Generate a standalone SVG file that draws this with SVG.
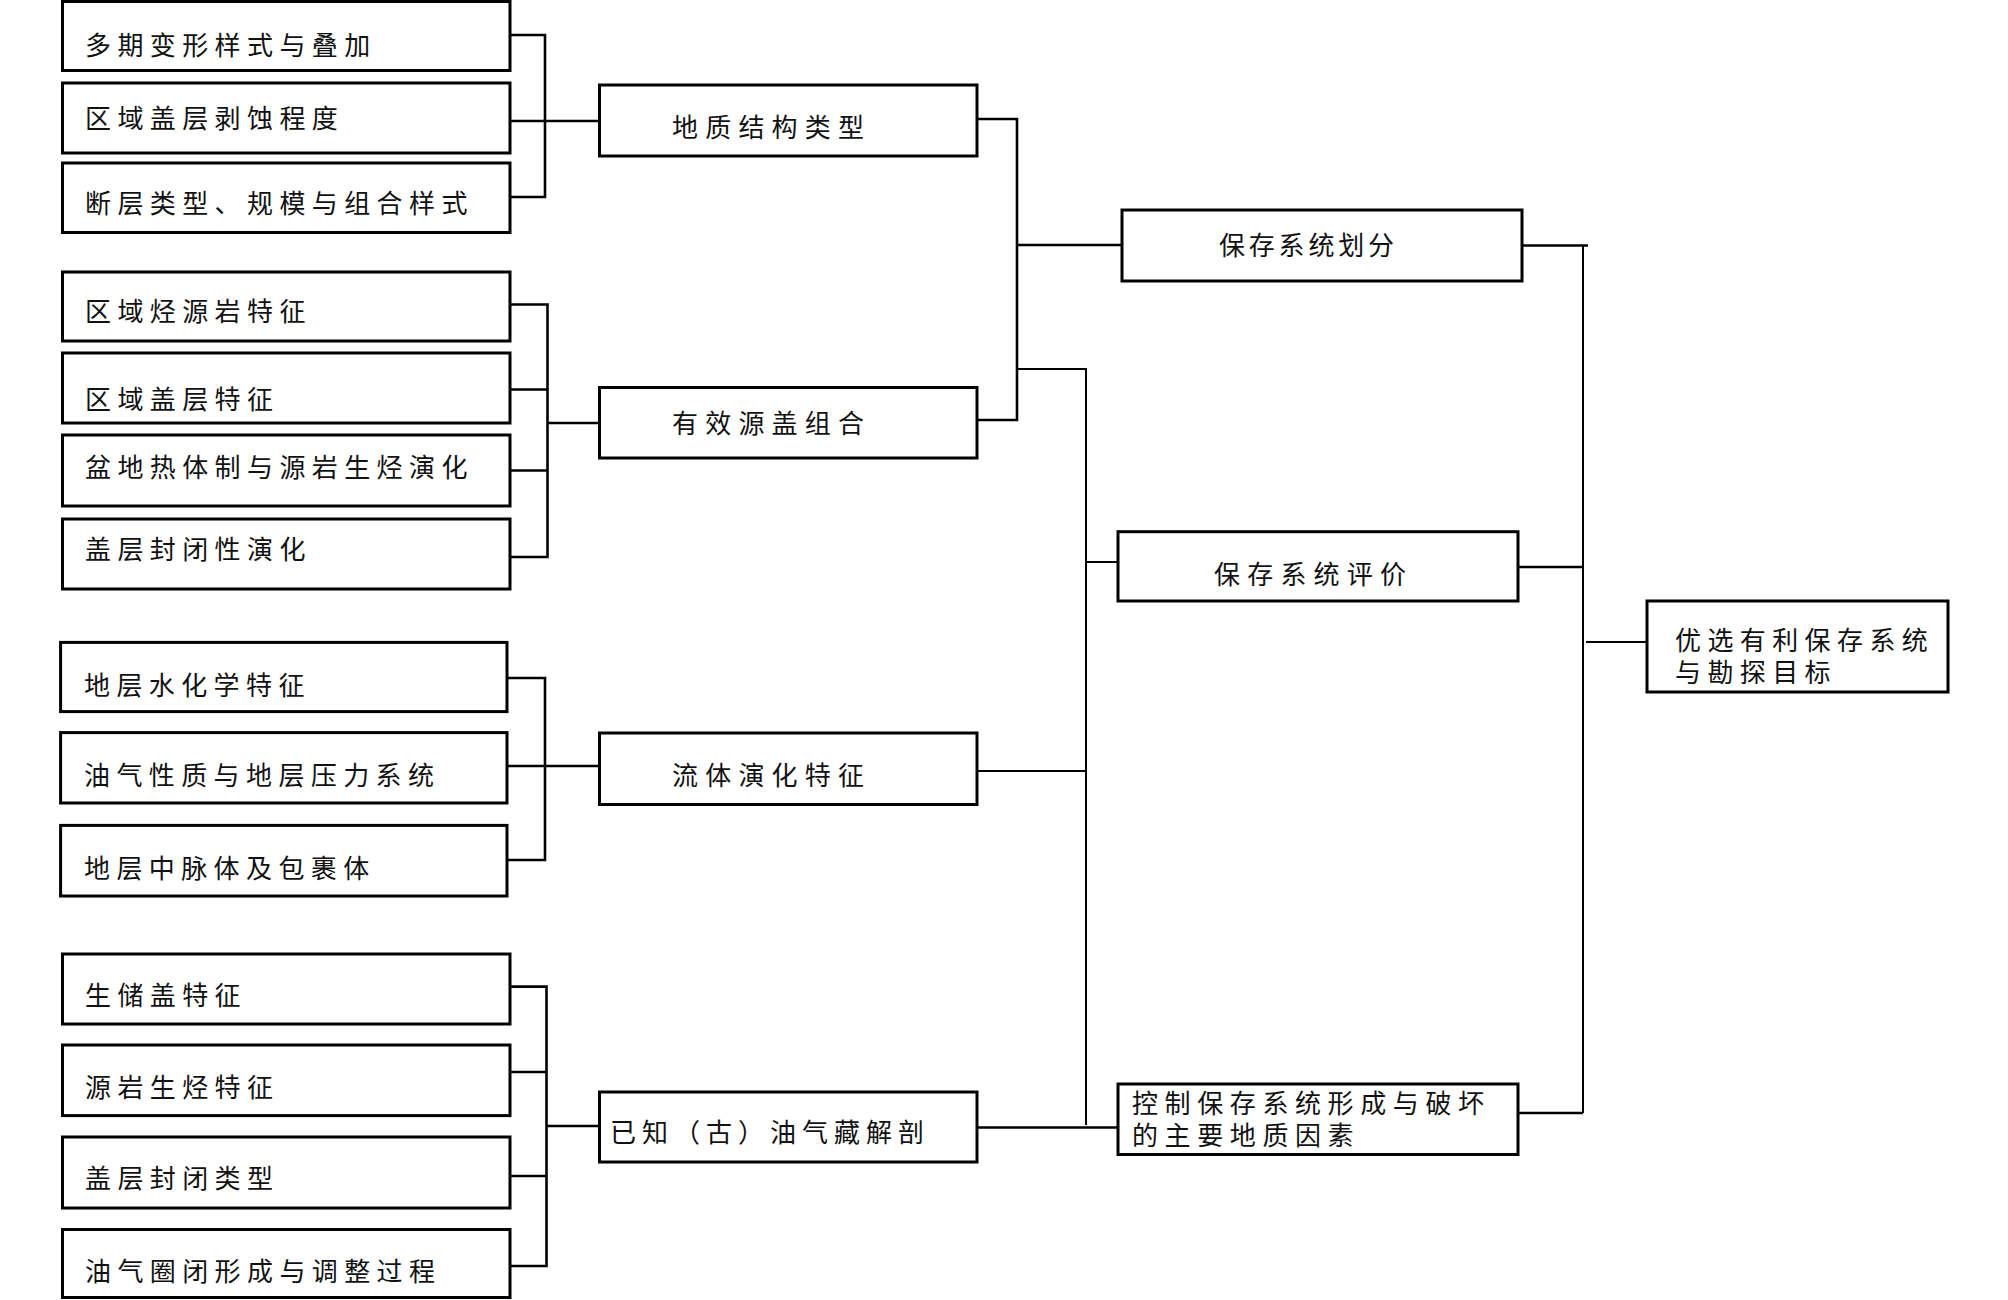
<svg xmlns="http://www.w3.org/2000/svg" width="2008" height="1300" viewBox="0 0 2008 1300">
<style>
.box{fill:#fff;stroke:#000;stroke-width:3}
.t{font-family:"Noto Sans CJK SC","Liberation Sans",sans-serif;font-size:26px;fill:#111;letter-spacing:6.4px}
.c{fill:none;stroke:#000;stroke-width:2.6}
.c2{fill:none;stroke:#000;stroke-width:2}
</style>
<rect width="2008" height="1300" fill="#fff"/>
<g id="connectors">
<path class="c" d="M510,35 H545 V197 H510 M510,121 H599"/>
<path class="c" d="M510,304.5 H547.5 V557 H510 M510,389.5 H547.5 M510,470.5 H547.5 M547.5,423 H599"/>
<path class="c" d="M507,678 H545 V860 H507 M507,766 H599"/>
<path class="c" d="M510,986.6 H546.5 V1266 H510 M510,1072 H546.5 M510,1176 H546.5 M546.5,1126 H599"/>
<path class="c" d="M977,119 H1017 V420 H977 M1017,245 H1122"/>
<path class="c2" d="M1017,369 H1086 V1125 M977,771 H1086 M1086,562 H1118"/>
<path class="c" d="M977,1127.5 H1118"/>
<path class="c" d="M1522,245.5 H1588 M1518,567 H1583 M1518,1113 H1583"/>
<path class="c2" d="M1583,245.5 V1113 M1586,642 H1647"/>
</g>
<g id="n1"><rect class="box" x="62.5" y="1.5" width="447.5" height="69"/><text class="t" x="85" y="55">多期变形样式与叠加</text></g>
<g id="n2"><rect class="box" x="62.5" y="83" width="447.5" height="70"/><text class="t" x="85" y="128">区域盖层剥蚀程度</text></g>
<g id="n3"><rect class="box" x="62.5" y="163" width="447.5" height="69.5"/><text class="t" x="85" y="212.5">断层类型、规模与组合样式</text></g>
<g id="n4"><rect class="box" x="62.5" y="272" width="447.5" height="69"/><text class="t" x="85" y="321">区域烃源岩特征</text></g>
<g id="n5"><rect class="box" x="62.5" y="353" width="447.5" height="70"/><text class="t" x="85" y="409">区域盖层特征</text></g>
<g id="n6"><rect class="box" x="62.5" y="435" width="447.5" height="71"/><text class="t" x="85" y="476.5">盆地热体制与源岩生烃演化</text></g>
<g id="n7"><rect class="box" x="62.5" y="519" width="447.5" height="70"/><text class="t" x="85" y="558.5">盖层封闭性演化</text></g>
<g id="n8"><rect class="box" x="60.6" y="642.4" width="446.4" height="69.2"/><text class="t" x="84" y="694.5">地层水化学特征</text></g>
<g id="n9"><rect class="box" x="60.6" y="732.6" width="446.4" height="70.4"/><text class="t" x="84" y="785">油气性质与地层压力系统</text></g>
<g id="n10"><rect class="box" x="60.6" y="825.4" width="446.4" height="70.6"/><text class="t" x="84" y="878">地层中脉体及包裹体</text></g>
<g id="n11"><rect class="box" x="62.5" y="954" width="447.5" height="70"/><text class="t" x="85" y="1005">生储盖特征</text></g>
<g id="n12"><rect class="box" x="62.5" y="1045" width="447.5" height="70.6"/><text class="t" x="85" y="1096.5">源岩生烃特征</text></g>
<g id="n13"><rect class="box" x="62.5" y="1137" width="447.5" height="71"/><text class="t" x="85" y="1188">盖层封闭类型</text></g>
<g id="n14"><rect class="box" x="62.5" y="1229.5" width="447.5" height="68"/><text class="t" x="85" y="1280.5">油气圈闭形成与调整过程</text></g>
<g id="m1"><rect class="box" x="599.5" y="85" width="377.5" height="71"/><text class="t" x="672" y="136.5" style="letter-spacing:7.2px">地质结构类型</text></g>
<g id="m2"><rect class="box" x="599.5" y="387.5" width="377.5" height="70.5"/><text class="t" x="672" y="433" style="letter-spacing:7.2px">有效源盖组合</text></g>
<g id="m3"><rect class="box" x="599.5" y="733" width="377.5" height="71.5"/><text class="t" x="672" y="785" style="letter-spacing:7.2px">流体演化特征</text></g>
<g id="m4"><rect class="box" x="599.5" y="1092" width="377.5" height="70"/><text class="t" x="610" y="1141.5" style="letter-spacing:6px">已知（古）油气藏解剖</text></g>
<g id="r1"><rect class="box" x="1122" y="210" width="400" height="71"/><text class="t" x="1219" y="254.5" style="letter-spacing:3.8px">保存系统划分</text></g>
<g id="r2"><rect class="box" x="1118" y="531.7" width="400" height="69.3"/><text class="t" x="1214" y="583.5" style="letter-spacing:7.2px">保存系统评价</text></g>
<g id="r3"><rect class="box" x="1118" y="1084" width="400" height="70.5"/><text class="t" style="letter-spacing:6.6px"><tspan x="1132" y="1113">控制保存系统形成与破坏</tspan><tspan x="1132" y="1144.5">的主要地质因素</tspan></text></g>
<g id="f"><rect class="box" x="1647" y="601" width="301" height="91"/><text class="t"><tspan x="1675" y="650">优选有利保存系统</tspan><tspan x="1675" y="681.5">与勘探目标</tspan></text></g>
</svg>
